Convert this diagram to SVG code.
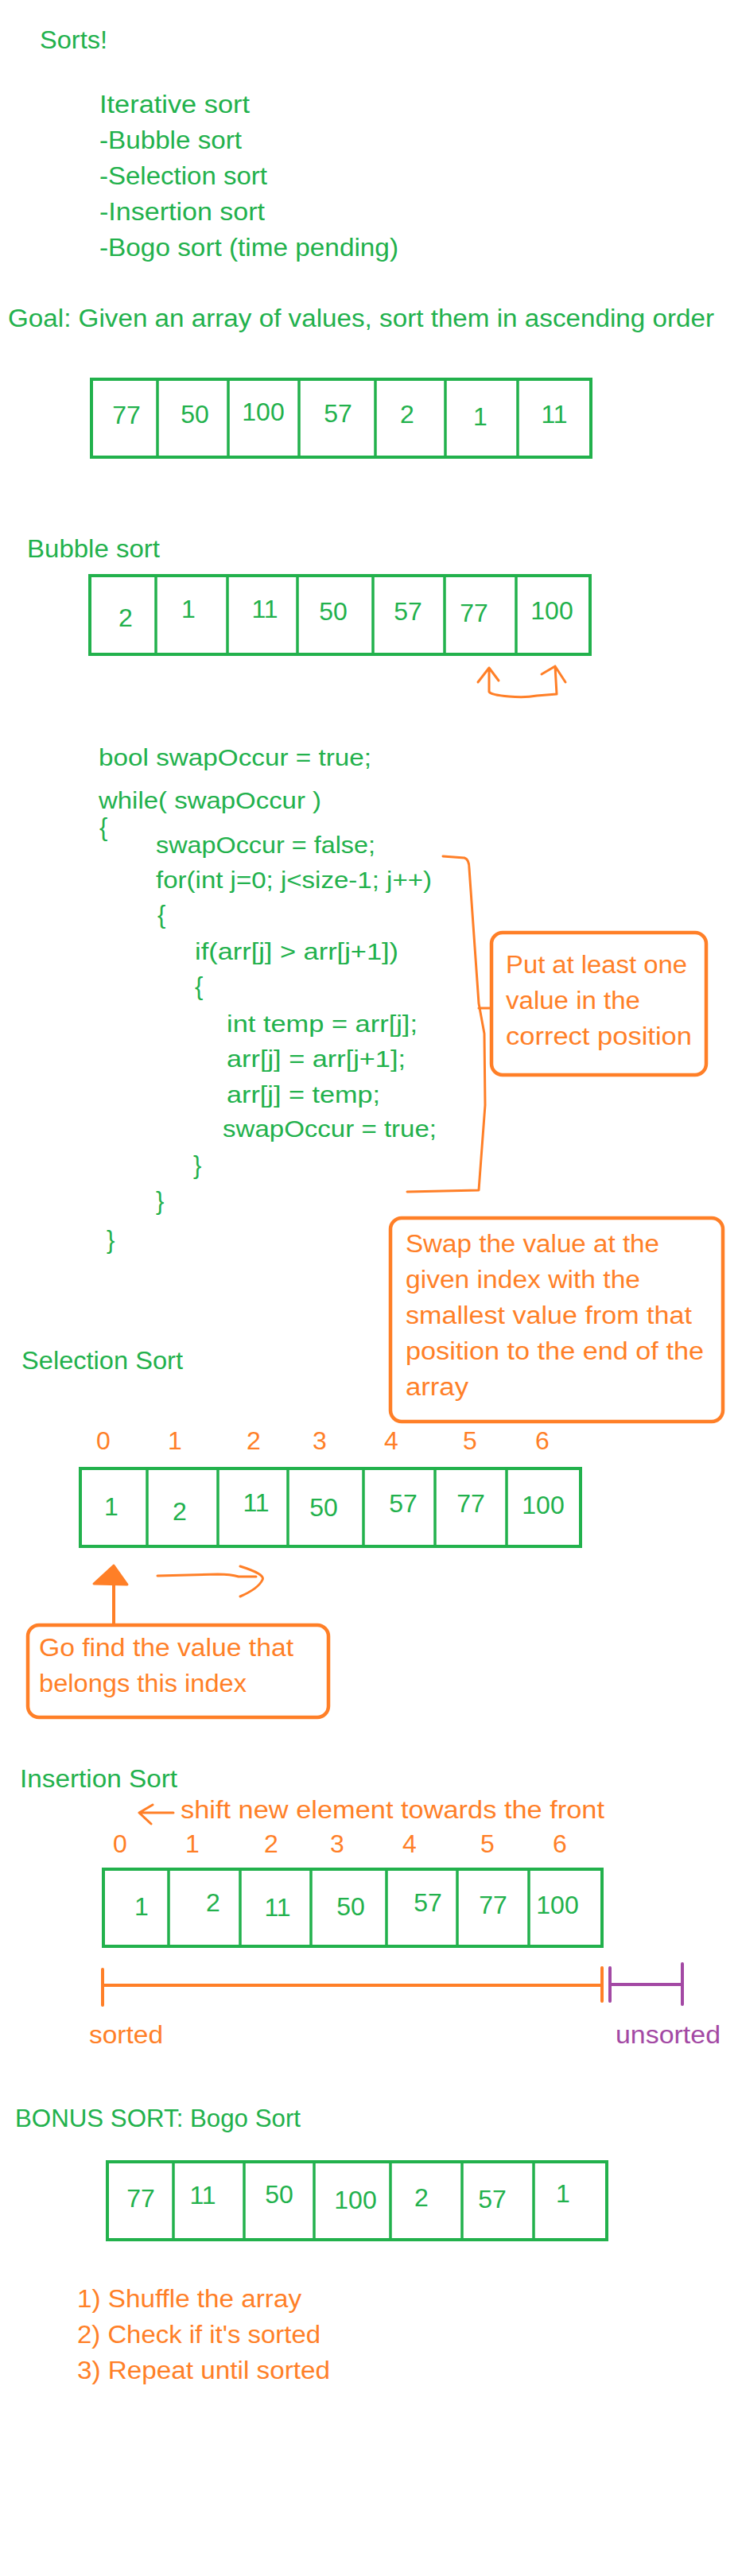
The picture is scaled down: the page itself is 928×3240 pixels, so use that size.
<svg xmlns="http://www.w3.org/2000/svg" width="928" height="3240" viewBox="0 0 928 3240">
<style>
text{font-family:"Liberation Sans",Arial,sans-serif;}
.g{fill:#22b14c;font-size:31px;}
.c{fill:#22b14c;font-size:30px;}
.o{fill:#ff7f27;font-size:31px;}
.p{fill:#a349a4;font-size:31px;}
.n{fill:#22b14c;font-size:32px;text-anchor:middle;}
.i{fill:#ff7f27;font-size:32px;text-anchor:middle;}
.br{fill:#22b14c;font-size:31px;}
.arr{fill:none;stroke:#22b14c;stroke-width:4;}
.div{stroke:#22b14c;stroke-width:3.5;}
.box{fill:none;stroke:#ff7f27;stroke-width:4.5;}
.ol{fill:none;stroke:#ff7f27;stroke-width:3;stroke-linecap:round;stroke-linejoin:round;}
.olt{fill:none;stroke:#ff7f27;stroke-width:4;stroke-linecap:round;stroke-linejoin:round;}
.pl{fill:none;stroke:#a349a4;stroke-width:4;stroke-linecap:round;}
</style>
<rect width="928" height="3240" fill="#ffffff"/>

<g id="title">
<text class="g" x="50" y="61" textLength="85" lengthAdjust="spacingAndGlyphs">Sorts!</text>
<text class="g" x="125" y="142" textLength="189" lengthAdjust="spacingAndGlyphs">Iterative sort</text>
<text class="g" x="125" y="187" textLength="179" lengthAdjust="spacingAndGlyphs">-Bubble sort</text>
<text class="g" x="125" y="232" textLength="211" lengthAdjust="spacingAndGlyphs">-Selection sort</text>
<text class="g" x="125" y="277" textLength="208" lengthAdjust="spacingAndGlyphs">-Insertion sort</text>
<text class="g" x="125" y="322" textLength="376" lengthAdjust="spacingAndGlyphs">-Bogo sort (time pending)</text>
</g>

<g id="goal">
<text class="g" x="10" y="411" textLength="888" lengthAdjust="spacingAndGlyphs">Goal: Given an array of values, sort them in ascending order</text>
</g>

<g id="array-unsorted">
<rect class="arr" x="115" y="477" width="628" height="98"/>
<path class="div" d="M198,477V575M287,477V575M376,477V575M472,477V575M560,477V575M651,477V575"/>
<text class="n" x="159" y="533">77</text>
<text class="n" x="245" y="532">50</text>
<text class="n" x="331" y="529">100</text>
<text class="n" x="425" y="531">57</text>
<text class="n" x="512" y="532">2</text>
<text class="n" x="604" y="535">1</text>
<text class="n" x="697" y="532">11</text>
</g>

<g id="bubble-title">
<text class="g" x="34" y="701" textLength="167" lengthAdjust="spacingAndGlyphs">Bubble sort</text>
</g>

<g id="array-bubble">
<rect class="arr" x="113" y="724" width="629" height="99"/>
<path class="div" d="M196,724V823M286,724V823M374,724V823M469,724V823M559,724V823M649,724V823"/>
<text class="n" x="158" y="788">2</text>
<text class="n" x="237" y="777">1</text>
<text class="n" x="333" y="777">11</text>
<text class="n" x="419" y="780">50</text>
<text class="n" x="513" y="780">57</text>
<text class="n" x="596" y="782">77</text>
<text class="n" x="694" y="779">100</text>
</g>

<g id="code">
<text class="c" x="124" y="963" textLength="343" lengthAdjust="spacingAndGlyphs">bool swapOccur = true;</text>
<text class="c" x="124" y="1017" textLength="280" lengthAdjust="spacingAndGlyphs">while( swapOccur )</text>
<text class="br" x="125" y="1051">{</text>
<text class="c" x="196" y="1073" textLength="276" lengthAdjust="spacingAndGlyphs">swapOccur = false;</text>
<text class="c" x="196" y="1117" textLength="347" lengthAdjust="spacingAndGlyphs">for(int j=0; j&lt;size-1; j++)</text>
<text class="br" x="198" y="1161">{</text>
<text class="c" x="245" y="1207" textLength="256" lengthAdjust="spacingAndGlyphs">if(arr[j] &gt; arr[j+1])</text>
<text class="br" x="245" y="1251">{</text>
<text class="c" x="285" y="1298" textLength="240" lengthAdjust="spacingAndGlyphs">int temp = arr[j];</text>
<text class="c" x="285" y="1342" textLength="225" lengthAdjust="spacingAndGlyphs">arr[j] = arr[j+1];</text>
<text class="c" x="285" y="1387" textLength="193" lengthAdjust="spacingAndGlyphs">arr[j] = temp;</text>
<text class="c" x="280" y="1430" textLength="269" lengthAdjust="spacingAndGlyphs">swapOccur = true;</text>
<text class="br" x="243" y="1476">}</text>
<text class="br" x="196" y="1521">}</text>
<text class="br" x="134" y="1570">}</text>
</g>

<g id="note-put">
<rect class="box" x="618" y="1173" width="270" height="179" rx="14"/>
<text class="o" x="636" y="1224" textLength="228" lengthAdjust="spacingAndGlyphs">Put at least one</text>
<text class="o" x="636" y="1269" textLength="169" lengthAdjust="spacingAndGlyphs">value in the</text>
<text class="o" x="636" y="1314" textLength="234" lengthAdjust="spacingAndGlyphs">correct position</text>
</g>

<g id="note-swap">
<rect class="box" x="491" y="1532" width="418" height="256" rx="14"/>
<text class="o" x="510" y="1575" textLength="319" lengthAdjust="spacingAndGlyphs">Swap the value at the</text>
<text class="o" x="510" y="1620" textLength="295" lengthAdjust="spacingAndGlyphs">given index with the</text>
<text class="o" x="510" y="1665" textLength="360" lengthAdjust="spacingAndGlyphs">smallest value from that</text>
<text class="o" x="510" y="1710" textLength="375" lengthAdjust="spacingAndGlyphs">position to the end of the</text>
<text class="o" x="510" y="1755" textLength="79" lengthAdjust="spacingAndGlyphs">array</text>
</g>

<g id="selection-title">
<text class="g" x="27" y="1722" textLength="203" lengthAdjust="spacingAndGlyphs">Selection Sort</text>
</g>

<g id="selection-indices">
<text class="i" x="130" y="1823">0</text>
<text class="i" x="220" y="1823">1</text>
<text class="i" x="319" y="1823">2</text>
<text class="i" x="402" y="1823">3</text>
<text class="i" x="492" y="1823">4</text>
<text class="i" x="591" y="1823">5</text>
<text class="i" x="682" y="1823">6</text>
</g>

<g id="array-selection">
<rect class="arr" x="101" y="1847" width="629" height="98"/>
<path class="div" d="M185,1847V1945M274,1847V1945M362,1847V1945M457,1847V1945M547,1847V1945M637,1847V1945"/>
<text class="n" x="140" y="1906">1</text>
<text class="n" x="226" y="1912">2</text>
<text class="n" x="322" y="1901">11</text>
<text class="n" x="407" y="1907">50</text>
<text class="n" x="507" y="1902">57</text>
<text class="n" x="592" y="1902">77</text>
<text class="n" x="683" y="1904">100</text>
</g>

<g id="note-find">
<rect class="box" x="35" y="2044" width="378" height="116" rx="14"/>
<text class="o" x="49" y="2083" textLength="320" lengthAdjust="spacingAndGlyphs">Go find the value that</text>
<text class="o" x="49" y="2128" textLength="261" lengthAdjust="spacingAndGlyphs">belongs this index</text>
</g>

<g id="insertion-title">
<text class="g" x="25" y="2248" textLength="198" lengthAdjust="spacingAndGlyphs">Insertion Sort</text>
<text class="o" x="227" y="2287" textLength="533" lengthAdjust="spacingAndGlyphs">shift new element towards the front</text>
</g>

<g id="insertion-indices">
<text class="i" x="151" y="2330">0</text>
<text class="i" x="242" y="2330">1</text>
<text class="i" x="341" y="2330">2</text>
<text class="i" x="424" y="2330">3</text>
<text class="i" x="515" y="2330">4</text>
<text class="i" x="613" y="2330">5</text>
<text class="i" x="704" y="2330">6</text>
</g>

<g id="array-insertion">
<rect class="arr" x="130" y="2351" width="627" height="97"/>
<path class="div" d="M212,2351V2448M302,2351V2448M391,2351V2448M486,2351V2448M575,2351V2448M665,2351V2448"/>
<text class="n" x="178" y="2409">1</text>
<text class="n" x="268" y="2404">2</text>
<text class="n" x="349" y="2410">11</text>
<text class="n" x="441" y="2409">50</text>
<text class="n" x="538" y="2404">57</text>
<text class="n" x="620" y="2407">77</text>
<text class="n" x="701" y="2407">100</text>
</g>

<g id="range-labels">
<text class="o" x="112" y="2570" textLength="93" lengthAdjust="spacingAndGlyphs">sorted</text>
<text class="p" x="774" y="2570" textLength="132" lengthAdjust="spacingAndGlyphs">unsorted</text>
</g>

<g id="bogo-title">
<text class="g" x="19" y="2675" textLength="359" lengthAdjust="spacingAndGlyphs">BONUS SORT: Bogo Sort</text>
</g>

<g id="array-bogo">
<rect class="arr" x="135" y="2719" width="628" height="98"/>
<path class="div" d="M218,2719V2817M307,2719V2817M395,2719V2817M491,2719V2817M581,2719V2817M671,2719V2817"/>
<text class="n" x="177" y="2776">77</text>
<text class="n" x="255" y="2772">11</text>
<text class="n" x="351" y="2771">50</text>
<text class="n" x="447" y="2778">100</text>
<text class="n" x="530" y="2775">2</text>
<text class="n" x="619" y="2777">57</text>
<text class="n" x="708" y="2770">1</text>
</g>

<g id="bogo-steps">
<text class="o" x="97" y="2902" textLength="282" lengthAdjust="spacingAndGlyphs">1) Shuffle the array</text>
<text class="o" x="97" y="2947" textLength="306" lengthAdjust="spacingAndGlyphs">2) Check if it's sorted</text>
<text class="o" x="97" y="2992" textLength="318" lengthAdjust="spacingAndGlyphs">3) Repeat until sorted</text>
</g>

<g id="connectors">
<path class="ol" d="M601,858 L615,840 L627,856 M615,840 L615,870 Q617,874 640,876 Q660,878 675,875 L700,873 L698,838 M681,848 L698,838 L711,858"/>
<path class="ol" d="M557,1077 L584,1079 Q590,1081 590,1092 L602,1262 L609,1300 L610,1390 L602,1497 L512,1499 M602,1268 L618,1268"/>
<path class="olt" d="M143,2043 L143,1975"/>
<path d="M143,1969 L118,1992 L160,1993 Z" fill="#ff7f27" stroke="#ff7f27" stroke-width="3" stroke-linejoin="round"/>
<path class="ol" d="M198,1982 L274,1980 Q290,1980 300,1983 L322,1983 M302,1970 Q334,1980 330,1987 Q325,1998 302,2008"/>
<path class="ol" d="M218,2280 L177,2280 M192,2270 L175,2280 L190,2294"/>
<path class="olt" d="M129,2477 V2522 M129,2497 H757 M757,2475 V2517"/>
<path class="pl" d="M767,2475 V2517 M767,2496 H858 M858,2470 V2521"/>
</g>
</svg>
